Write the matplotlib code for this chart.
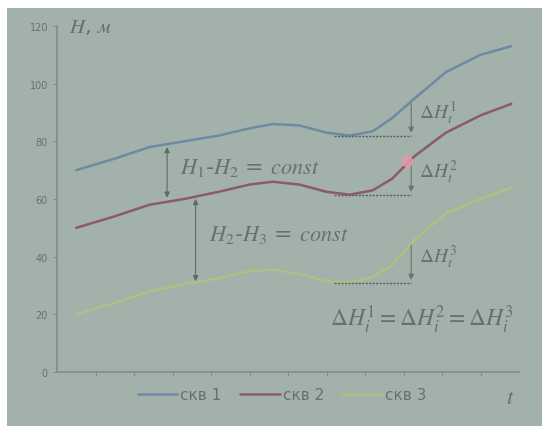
import matplotlib.pyplot as plt
from matplotlib.patches import Rectangle

# Данные
t = [0.5, 1.5, 2.4, 3.3, 4.2, 5.0, 5.6, 6.3, 7.0, 7.6, 8.2, 8.7, 9.3, 10.1, 11.0, 11.8]
h1 = [70, 74, 78, 80, 82, 84.5, 86, 85.5, 83, 82, 83.5, 88, 95, 104, 110, 113]
h2 = [50, 54, 58, 60, 62.5, 65, 66, 65, 62.5, 61.5, 63, 67, 75, 83, 89, 93]
h3 = [20, 24, 28, 30.5, 32.5, 35, 35.5, 34, 31.5, 31, 33, 37, 46, 55, 60, 64]
labels = ['скв 1', 'скв 2', 'скв 3']
colors = ['#6c8ba2', '#8c5a68', '#aac283']
y_ticks = [0, 20, 40, 60, 80, 100, 120]

# уровни начала подъема и вершины стрелок dH
base_levels = [82, 61.5, 31]
top_levels = [94, 73.5, 45]

bg = '#a2b2aa'
txt = '#66716d'
axc = '#838c89'

plt.rcParams['mathtext.fontset'] = 'stix'

fig = plt.figure(figsize=(5.42, 4.27), dpi=100)
fig.patch.set_facecolor('white')
fig.patches.append(Rectangle((7 / 542, 0), 1, (427 - 9) / 427, transform=fig.transFigure,
                             facecolor=bg, edgecolor='none', zorder=-10))

ax = fig.add_axes([57 / 542, 54 / 427, (519 - 57) / 542, (373 - 27) / 427])
ax.patch.set_alpha(0)

for series, lab, col in zip([h1, h2, h3], labels, colors):
    ax.plot(t, series, color=col, lw=1.8, label=lab, solid_capstyle='round')

ax.set_xlim(0, 12)
ax.set_ylim(0, 120)
ax.set_yticks(y_ticks)
ax.set_xticks(range(1, 12))
ax.set_xticklabels([])
ax.tick_params(axis='y', colors=axc, labelcolor=txt, labelsize=7, length=3)
ax.tick_params(axis='x', colors=axc, length=3)
for s in ['top', 'right']:
    ax.spines[s].set_visible(False)
for s in ['left', 'bottom']:
    ax.spines[s].set_color(axc)
    ax.spines[s].set_linewidth(1.2)

# пунктир и стрелки dH
x0, x1 = 7.2, 9.2
for i, (b, tp) in enumerate(zip(base_levels, top_levels)):
    ax.plot([x0, x1], [b, b], color='#55605c', lw=1, ls=(0, (1.5, 1)))
    ax.annotate('', xy=(x1, b), xytext=(x1, tp),
                arrowprops=dict(arrowstyle='-|>', color='#68736f', lw=0.8, mutation_scale=8))
    ax.text(x1 + 0.2, (b + tp) / 2 + 2, r'$\Delta H_t^{%d}$' % (i + 1), color=txt,
            fontsize=14, va='center', ha='left')

ax.scatter([9.1], [73], s=70, color='#e597ae', alpha=0.85, zorder=5, edgecolors='none')

# стрелки между кривыми
ax.annotate('', xy=(2.86, 79), xytext=(2.86, 59.5),
            arrowprops=dict(arrowstyle='<|-|>', color='#5f6a66', lw=0.8, mutation_scale=8))
ax.annotate('', xy=(3.6, 61), xytext=(3.6, 30.5),
            arrowprops=dict(arrowstyle='<|-|>', color='#5f6a66', lw=0.8, mutation_scale=8))
ax.text(3.2, 71, r'$H_1$-$H_2$ = $const$', color=txt, fontsize=16, va='center')
ax.text(3.95, 48, r'$H_2$-$H_3$ = $const$', color=txt, fontsize=16, va='center')
ax.text(7.1, 18.5, r'$\Delta H_i^1 = \Delta H_i^2 = \Delta H_i^3$', color=txt, fontsize=17,
        va='center')

ax.text(0.3, 120, r'$H$, $м$', color=txt, fontsize=15, va='center', ha='left')

leg = ax.legend(loc='center', bbox_to_anchor=(282 / 542, 1 - 396 / 427), bbox_transform=fig.transFigure,
                ncol=3, frameon=False, fontsize=11, handlelength=2.6, handletextpad=0.2,
                columnspacing=1.2, labelcolor=txt)
fig.text(510 / 542, 1 - 398 / 427, r'$t$', color=txt, fontsize=16, va='center', ha='center')

fig.savefig('out.png', dpi=100, facecolor=fig.get_facecolor())
